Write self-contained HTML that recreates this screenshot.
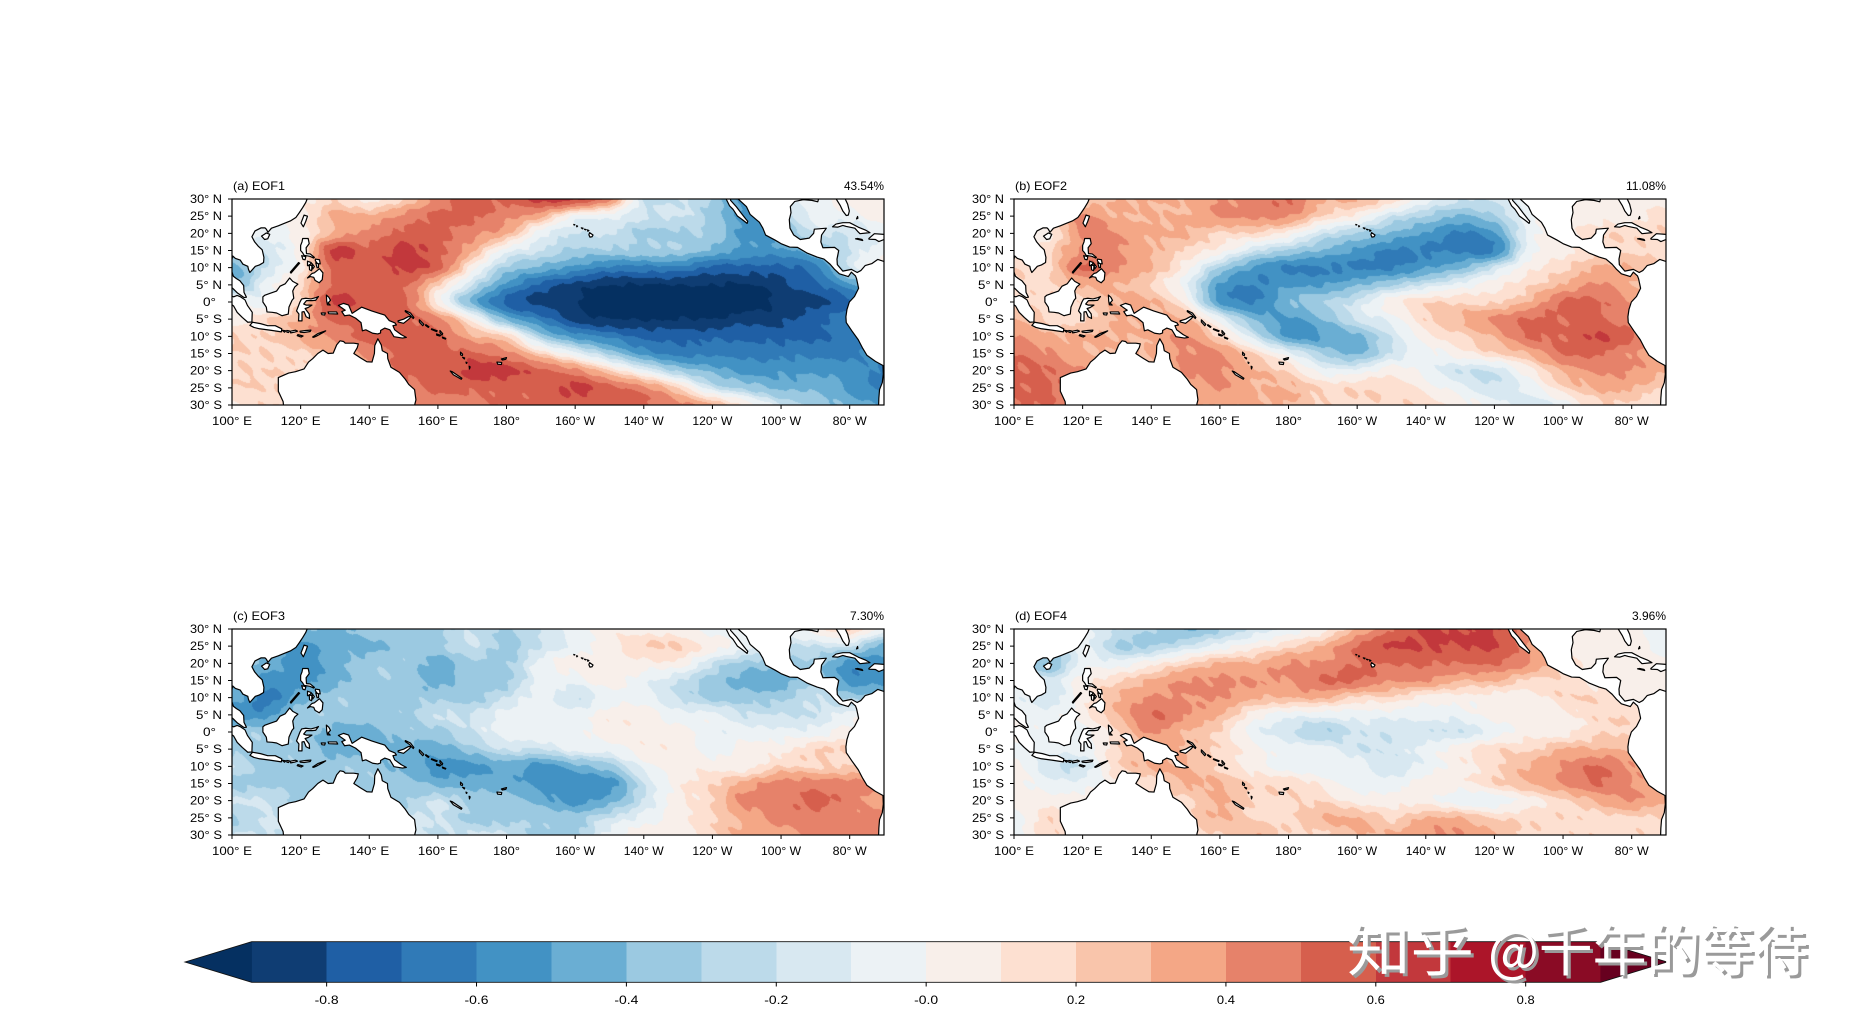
<!DOCTYPE html>
<html><head><meta charset="utf-8">
<style>
html,body{margin:0;padding:0;width:1852px;height:1023px;overflow:hidden;background:#fff}
canvas{position:absolute;display:block}
#ov{position:absolute;left:0;top:0}
text{font-family:"Liberation Sans","WenQuanYi Zen Hei",sans-serif;font-size:12px;fill:#000}
.wm{font-family:"Noto Sans CJK SC","WenQuanYi Zen Hei",sans-serif;font-size:56px}
</style></head><body>
<canvas id="ca" width="652" height="206" style="left:232px;top:199px"></canvas>
<canvas id="cb" width="652" height="206" style="left:1014px;top:199px"></canvas>
<canvas id="cc" width="652" height="206" style="left:232px;top:629px"></canvas>
<canvas id="cd" width="652" height="206" style="left:1014px;top:629px"></canvas>
<svg id="ov" width="1852" height="1023" xmlns="http://www.w3.org/2000/svg">
<defs>
<path id="land" fill="#fff" stroke="#000" stroke-width="1.2" stroke-linejoin="round" vector-effect="non-scaling-stroke" d="
M99,-31 L122,-31 L121.9,-30 L121.5,-29 L120.6,-27.5 L119.6,-26 L118.6,-24.6 L117,-23.6 L115,-22.8 L113.5,-22.2 L111.5,-21.5 L110.5,-20.3 L110,-21.2 L109.6,-21.6 L108.5,-21.6 L106.7,-20.7 L105.8,-19 L106.6,-17.5 L107.6,-16.3 L108.8,-15.2 L109.3,-13 L109.2,-11.5 L108,-10.8 L106.8,-10.4 L105.2,-8.6 L104.8,-9.5 L104.6,-10.4 L103.2,-11 L102.4,-12.2 L101,-12.7 L100.2,-13.4 L99.9,-12 L99.2,-10.5 L99.9,-9 L100.4,-7.5 L101.3,-6.8 L102.3,-6.2 L103.4,-4.8 L103.5,-2.8 L104.2,-1.4 L103.5,-1.3 L101.5,-2.7 L100.4,-3.8 L99,-5 Z
M99,-2 L100.5,-1.5 L101.5,-1.9 L102.5,-1.5 L103.8,-0.6 L104.5,1 L105.9,3 L105.8,5.8 L104.6,5.9 L103,4.5 L101.5,3 L100.5,1.2 L99,0 Z
M105.2,6.8 L106,5.9 L108.3,6.3 L110.4,6.9 L112.6,6.9 L114.5,7.8 L114.4,8.7 L111,8.2 L108,7.8 L106.4,7.4 Z
M114.6,8.2 L115.7,8.4 L115.3,8.8 Z M116,8.3 L116.7,8.4 L116.5,8.9 L116,8.8 Z M117,8.5 L118.5,8.2 L119.1,8.5 L118.2,8.8 L117.1,9 Z
M119.8,8.5 L121.5,8.3 L123,8.2 L122.8,8.6 L121,8.9 L119.9,8.8 Z M119.2,9.5 L120.7,9.9 L120.2,10.2 L119,9.8 Z
M123.5,10.2 L125,9.2 L127.3,8.4 L126.5,8.9 L124.5,10 L123.8,10.3 Z
M109,-1.5 L109.6,-2 L111,-2.5 L113,-3.2 L114,-4.6 L115.5,-5.3 L116.8,-7 L117.7,-6 L119.2,-5.2 L118.3,-4.4 L117.7,-3.2 L118,-1.1 L117.5,-0.5 L116.6,1.5 L116.4,3.5 L114.6,4 L113,3.2 L111.7,3 L110.2,2.9 L110,1.5 L109,0 Z
M119.4,5.5 L119.5,3.5 L118.8,2.6 L119.8,0 L120.3,-0.9 L121.5,-1.1 L123,-0.9 L124.5,-1.3 L125.2,-1.6 L124.4,-0.5 L123.3,-0.4 L121.7,-0.4 L120.9,0.6 L121.6,0.9 L123.3,0.9 L122.2,1.6 L121.3,1.9 L122.5,3.5 L122.6,4.8 L121.6,4.3 L121,2.8 L120.4,2.9 L120.4,5.5 Z
M127.5,-2 L128.2,-1.4 L128.7,-0.5 L128,0.3 L128.6,0.9 L127.8,0.8 L127.6,-0.3 Z
M128,2.9 L130.5,2.9 L130.8,3.5 L128.2,3.4 Z M126,3.2 L127.2,3.2 L127,3.8 L126.2,3.7 Z
M120.6,-18.5 L122.2,-18.5 L122.5,-17 L121.6,-15.8 L121.7,-14.1 L122.8,-14 L124,-13 L123.8,-12.8 L122.7,-13.3 L121,-13.6 L120.6,-14.3 L120,-15 L120,-16.5 L120.4,-17.5 Z
M120.3,-13.5 L121.5,-13.2 L121.3,-12.3 L120.7,-12.4 Z
M124.3,-12.5 L125.5,-12.3 L125.7,-11.1 L124.9,-11.2 L124.3,-12 Z
M124.4,-11.4 L125.2,-11.1 L125.2,-10 L124.8,-10 Z
M122,-11.9 L123.1,-11.5 L122.6,-10.6 L122,-10.6 Z
M122.5,-10.9 L123.3,-10.5 L123.2,-9.1 L122.6,-9.4 Z
M123.3,-11.2 L124,-10.3 L123.5,-9.6 Z
M122,-7 L123.3,-8.3 L124,-8.5 L125.5,-9.7 L126.5,-8.5 L126.3,-6.5 L125.4,-5.6 L124.2,-6.3 L123.8,-7.2 L122.8,-7.4 Z
M117.2,-8.4 L119.7,-11.3 L119.4,-11.5 L117,-8.7 Z
M120.1,-23 L121,-25.3 L122,-25 L121.5,-23.5 L120.8,-21.9 Z
M108.6,-19.2 L110,-20.1 L111,-19.7 L110.4,-18.4 L109.5,-18.2 Z
M131,1 L132.5,0.4 L134,0.9 L135,3.3 L137.8,1.5 L140.7,2.6 L144.5,3.8 L145.8,5.4 L147.5,6.1 L147.9,6.7 L146.9,6.9 L147.4,8.1 L149.3,9.5 L150.8,10.3 L149.7,10.5 L147.2,10.1 L146,8.1 L144.5,7.6 L143.3,8.3 L143.3,9 L142.5,9.3 L141,9.1 L139,8.1 L138,8.4 L137.6,6 L136,4.7 L134.2,3.8 L132.8,4 L132,2.8 L133,2.4 Z
M148.4,5.5 L150,5 L151.5,4.2 L152.2,4.3 L151.5,5 L150,6.2 L148.4,5.8 Z
M150.5,2.5 L152,3.2 L153,4.5 L152.8,4.8 L151.7,3.6 L150.5,2.8 Z
M154.6,5.2 L155.9,6.5 L155.6,6.9 L154.6,5.8 Z M156.5,6.6 L157.4,7.2 L157.2,7.4 L156.4,6.8 Z
M158.2,7.8 L159.8,8.4 L159.6,8.6 L158.1,8 Z M159.6,9.3 L160.8,9.7 L160.6,9.9 L159.7,9.7 Z
M160.6,8.3 L161.4,9.2 L161.2,9.6 L160.6,8.9 Z M161.3,10.2 L162.3,10.6 L162.2,10.8 L161.4,10.5 Z
M166.6,14.6 L167.2,15.2 L167.1,15.6 L166.6,15.4 Z M167.2,16.1 L167.8,16.3 L167.7,16.6 Z M168.2,17.5 L168.5,17.7 L168.3,17.9 Z M169.1,18.7 L169.4,18.9 L169.2,19.5 Z
M163.6,20.1 L164.2,20.3 L167,22.2 L166.8,22.5 L164.5,21.2 Z
M177.2,17.5 L178.6,17.6 L178.5,18.2 L177.4,18.1 Z M178.5,16.6 L180,16.2 L179.8,16.7 L178.8,16.9 Z
M113.5,22 L114,21.8 L116.5,20.7 L118.5,20.3 L121,19.5 L122.3,17.5 L123.5,16.5 L125,15 L126.5,14 L128,15 L129.5,14.9 L130.5,12.5 L131.5,11.3 L132.5,11.5 L133,12 L135.5,12 L136.8,12.2 L136.5,13.3 L135.5,15 L137.5,16.3 L139.3,17.4 L140.8,17.5 L141.5,15 L141.6,12.7 L142.5,10.7 L143.5,12.5 L143.8,14.2 L145.3,15 L145.4,16.5 L146.3,19 L148.8,20.5 L150.5,22.5 L151.5,24 L153.2,25.5 L153.6,28.5 L153.1,30.5 L152,33 L114,33 L115,30 L114.9,29 L113.5,26 Z
M204.2,-20.2 L205.2,-19.5 L204.9,-19 L204.3,-18.9 L204,-19.6 Z M203.6,-21 L204,-20.8 L203.7,-20.6 Z M202.7,-21.2 L203.2,-21.1 L203,-21 Z M201.8,-21.6 L202.3,-21.5 L202.1,-21.3 Z M200.4,-22.2 L200.7,-22.1 L200.5,-21.9 Z M199.6,-22.6 L199.9,-22.5 L199.7,-22.4 Z
M244,-31 L244,-30 L245,-28 L246,-27 L247.3,-25 L248.7,-24 L250.1,-22.9 L250.3,-23.5 L249.7,-24.2 L248.3,-26 L247,-27.7 L245.3,-29.6 L245.2,-31 Z
M247.5,-31 L247.5,-30 L249.9,-27.8 L251,-25.5 L253.7,-23.2 L254.7,-21.5 L255.5,-19.5 L258.3,-18 L260,-17 L262.5,-16 L264.8,-15.9 L267.5,-14.3 L270.5,-13.1 L272.5,-12.5 L274.3,-11 L275.5,-9.6 L277,-8.2 L279.6,-7.4 L280.5,-8.7 L281.7,-7.6 L282,-6.8 L282.6,-4 L281.4,-1.6 L279.9,0 L279.2,2.2 L278.9,4.3 L279,6 L280.7,8.5 L282.5,11 L283.8,13.5 L285,15.5 L287.5,17.3 L289.7,18.5 L289.8,21 L289.5,23.5 L288.7,25.5 L288.5,28 L288.4,31 L295,31 L295,-11.5 L290,-11.8 L288.2,-12.4 L286.5,-11.2 L284.5,-10.6 L283.3,-9.2 L282.2,-8.6 L280.5,-9.5 L278,-9 L276.4,-10.9 L276.3,-12.5 L276.8,-15 L275.6,-15.9 L272.2,-15.8 L271.6,-17.5 L271.8,-19.5 L273.2,-21.5 L269.7,-21.2 L269.5,-20 L268.2,-18.6 L265.6,-18.2 L263.7,-19.5 L262.6,-21.5 L262.4,-24 L262.9,-26 L262.7,-27.8 L264,-29.3 L266.5,-29.8 L269,-29.6 L270.7,-29.2 L271,-30.3 L276,-30.1 L276.2,-29.8 L277.3,-28 L278,-26.5 L279,-25.2 L279.6,-25.3 L279.9,-26.5 L279.4,-28.5 L278.7,-30 L278.7,-31 Z
M275,-21.9 L276,-22.7 L278,-23.1 L280,-23.1 L282.5,-21.8 L284.5,-21 L285.9,-20.2 L283,-19.9 L282.3,-20.6 L281.5,-21.5 L279,-22 L278,-22.3 L276.5,-21.8 Z
M285.6,-18.5 L287.2,-19.9 L290,-19.7 L291.6,-18.6 L290,-18.2 L288.5,-17.6 L287.5,-18.2 L285.6,-18.3 Z
M281.7,-18.4 L283.8,-17.9 L283.6,-18.2 L282.3,-18.5 Z
M282,-24.2 L282.4,-24.4 L282.3,-24.9 Z"/>
<g id="axes">
<rect x="232" y="199" width="652" height="206" fill="none" stroke="#000" stroke-width="1.2"/>
<path stroke="#000" stroke-width="1" fill="none" d="M228 199H232M228 216.17H232M228 233.33H232M228 250.5H232M228 267.67H232M228 284.83H232M228 302H232M228 319.17H232M228 336.33H232M228 353.5H232M228 370.67H232M228 387.83H232M228 405H232
M232 405V409M300.63 405V409M369.26 405V409M437.9 405V409M506.53 405V409M575.16 405V409M643.79 405V409M712.42 405V409M781.05 405V409M849.69 405V409"/>
<g text-anchor="end">
<text x="222" y="203" textLength="32" lengthAdjust="spacingAndGlyphs">30° N</text>
<text x="222" y="220.2" textLength="32" lengthAdjust="spacingAndGlyphs">25° N</text>
<text x="222" y="237.3" textLength="32" lengthAdjust="spacingAndGlyphs">20° N</text>
<text x="222" y="254.5" textLength="32" lengthAdjust="spacingAndGlyphs">15° N</text>
<text x="222" y="271.7" textLength="32" lengthAdjust="spacingAndGlyphs">10° N</text>
<text x="222" y="288.8" textLength="26" lengthAdjust="spacingAndGlyphs">5° N</text>
<text x="216" y="306" textLength="13" lengthAdjust="spacingAndGlyphs">0°</text>
<text x="222" y="323.2" textLength="26" lengthAdjust="spacingAndGlyphs">5° S</text>
<text x="222" y="340.3" textLength="32" lengthAdjust="spacingAndGlyphs">10° S</text>
<text x="222" y="357.5" textLength="32" lengthAdjust="spacingAndGlyphs">15° S</text>
<text x="222" y="374.7" textLength="32" lengthAdjust="spacingAndGlyphs">20° S</text>
<text x="222" y="391.8" textLength="32" lengthAdjust="spacingAndGlyphs">25° S</text>
<text x="222" y="409" textLength="32" lengthAdjust="spacingAndGlyphs">30° S</text>
</g>
<g text-anchor="middle">
<text x="232" y="425" textLength="40" lengthAdjust="spacingAndGlyphs">100° E</text>
<text x="300.63" y="425" textLength="40" lengthAdjust="spacingAndGlyphs">120° E</text>
<text x="369.26" y="425" textLength="40" lengthAdjust="spacingAndGlyphs">140° E</text>
<text x="437.9" y="425" textLength="40" lengthAdjust="spacingAndGlyphs">160° E</text>
<text x="506.53" y="425" textLength="27" lengthAdjust="spacingAndGlyphs">180°</text>
<text x="575.16" y="425" textLength="40" lengthAdjust="spacingAndGlyphs">160° W</text>
<text x="643.79" y="425" textLength="40" lengthAdjust="spacingAndGlyphs">140° W</text>
<text x="712.42" y="425" textLength="40" lengthAdjust="spacingAndGlyphs">120° W</text>
<text x="781.05" y="425" textLength="40" lengthAdjust="spacingAndGlyphs">100° W</text>
<text x="849.69" y="425" textLength="34" lengthAdjust="spacingAndGlyphs">80° W</text>
</g>
</g>
</defs>

<svg x="232" y="199" width="652" height="206" viewBox="100 -30 190 60" preserveAspectRatio="none"><use href="#land"/></svg>
<svg x="1014" y="199" width="652" height="206" viewBox="100 -30 190 60" preserveAspectRatio="none"><use href="#land"/></svg>
<svg x="232" y="629" width="652" height="206" viewBox="100 -30 190 60" preserveAspectRatio="none"><use href="#land"/></svg>
<svg x="1014" y="629" width="652" height="206" viewBox="100 -30 190 60" preserveAspectRatio="none"><use href="#land"/></svg>

<use href="#axes"/>
<use href="#axes" transform="translate(782,0)"/>
<use href="#axes" transform="translate(0,430)"/>
<use href="#axes" transform="translate(782,430)"/>

<text x="233" y="190" textLength="52" lengthAdjust="spacingAndGlyphs">(a) EOF1</text>
<text x="884" y="190" text-anchor="end" textLength="40" lengthAdjust="spacingAndGlyphs">43.54%</text>
<text x="1015" y="190" textLength="52" lengthAdjust="spacingAndGlyphs">(b) EOF2</text>
<text x="1666" y="190" text-anchor="end" textLength="40" lengthAdjust="spacingAndGlyphs">11.08%</text>
<text x="233" y="620" textLength="52" lengthAdjust="spacingAndGlyphs">(c) EOF3</text>
<text x="884" y="620" text-anchor="end" textLength="34" lengthAdjust="spacingAndGlyphs">7.30%</text>
<text x="1015" y="620" textLength="52" lengthAdjust="spacingAndGlyphs">(d) EOF4</text>
<text x="1666" y="620" text-anchor="end" textLength="34" lengthAdjust="spacingAndGlyphs">3.96%</text>

<!-- colorbar -->
<g shape-rendering="crispEdges">
<rect x="251.7" y="941.7" width="75.4" height="40.6" fill="#0f3d73"/>
<rect x="326.64" y="941.7" width="75.4" height="40.6" fill="#1f5fa5"/>
<rect x="401.58" y="941.7" width="75.4" height="40.6" fill="#307ab7"/>
<rect x="476.52" y="941.7" width="75.4" height="40.6" fill="#4292c4"/>
<rect x="551.46" y="941.7" width="75.4" height="40.6" fill="#6aaed3"/>
<rect x="626.4" y="941.7" width="75.4" height="40.6" fill="#9bc9e1"/>
<rect x="701.34" y="941.7" width="75.4" height="40.6" fill="#bcdaea"/>
<rect x="776.28" y="941.7" width="75.4" height="40.6" fill="#d8e8f1"/>
<rect x="851.22" y="941.7" width="75.4" height="40.6" fill="#ecf2f5"/>
<rect x="926.16" y="941.7" width="75.4" height="40.6" fill="#f8efea"/>
<rect x="1001.1" y="941.7" width="75.4" height="40.6" fill="#fde0d1"/>
<rect x="1076.04" y="941.7" width="75.4" height="40.6" fill="#f9c5ab"/>
<rect x="1150.98" y="941.7" width="75.4" height="40.6" fill="#f4a786"/>
<rect x="1225.92" y="941.7" width="75.4" height="40.6" fill="#e6826a"/>
<rect x="1300.86" y="941.7" width="75.4" height="40.6" fill="#d65f4d"/>
<rect x="1375.8" y="941.7" width="75.4" height="40.6" fill="#c2383c"/>
<rect x="1450.74" y="941.7" width="75.4" height="40.6" fill="#ac1529"/>
<rect x="1525.68" y="941.7" width="74.94" height="40.6" fill="#8a0b25"/>
</g>
<polygon points="185,962 251.9,941.7 251.9,982.3" fill="#053061"/>
<polygon points="1667,962 1600.4,941.7 1600.4,982.3" fill="#67001f"/>
<polygon points="185,962 251.7,941.7 1600.6,941.7 1667,962 1600.6,982.3 251.7,982.3" fill="none" stroke="#111" stroke-width="0.9"/>
<path stroke="#000" stroke-width="1" d="M326.64 982.3V986.5M476.52 982.3V986.5M626.4 982.3V986.5M776.28 982.3V986.5M926.16 982.3V986.5M1076.04 982.3V986.5M1225.92 982.3V986.5M1375.8 982.3V986.5M1525.68 982.3V986.5"/>
<g text-anchor="middle">
<text x="326.64" y="1004" textLength="24" lengthAdjust="spacingAndGlyphs">-0.8</text>
<text x="476.52" y="1004" textLength="24" lengthAdjust="spacingAndGlyphs">-0.6</text>
<text x="626.4" y="1004" textLength="24" lengthAdjust="spacingAndGlyphs">-0.4</text>
<text x="776.28" y="1004" textLength="24" lengthAdjust="spacingAndGlyphs">-0.2</text>
<text x="926.16" y="1004" textLength="24" lengthAdjust="spacingAndGlyphs">-0.0</text>
<text x="1076.04" y="1004" textLength="18" lengthAdjust="spacingAndGlyphs">0.2</text>
<text x="1225.92" y="1004" textLength="18" lengthAdjust="spacingAndGlyphs">0.4</text>
<text x="1375.8" y="1004" textLength="18" lengthAdjust="spacingAndGlyphs">0.6</text>
<text x="1525.68" y="1004" textLength="18" lengthAdjust="spacingAndGlyphs">0.8</text>
</g>

<!-- watermark -->
<g>
<text class="wm" x="1350" y="974" style="fill:#9a9a9a" textLength="127" lengthAdjust="spacingAndGlyphs">知乎</text>
<text class="wm" x="1491" y="974" style="fill:#9a9a9a" textLength="320" lengthAdjust="spacingAndGlyphs">@千年的等待</text>
<text class="wm" x="1347" y="971" style="fill:#ffffff" textLength="127" lengthAdjust="spacingAndGlyphs">知乎</text>
<text class="wm" x="1488" y="971" style="fill:#ffffff" textLength="320" lengthAdjust="spacingAndGlyphs">@千年的等待</text>
</g>
</svg>

<script>
(function(){
var COL=["#053061","#0f3d73","#1f5fa5","#307ab7","#4292c4","#6aaed3","#9bc9e1","#bcdaea","#d8e8f1","#ecf2f5","#f8efea","#fde0d1","#f9c5ab","#f4a786","#e6826a","#d65f4d","#c2383c","#ac1529","#8a0b25","#67001f"];
var RGB=COL.map(function(h){return [parseInt(h.substr(1,2),16),parseInt(h.substr(3,2),16),parseInt(h.substr(5,2),16)];});
var D={
ca:[
[0,0,0,1,0,1,3,4,4,5,5,3,-2,-2,-3,-5,-2,-1,0,0],
[0,-1,0,2,2,3,4,4,3,2,-0.6,-1,-2,-2,-3,-5,-3,-1,-1,0],
[0,-1,0,2,3,4,4,3,2,-1,-2,-2,-3,-3,-3,-5,-4,-2,-2,-1],
[-3,-2,0,5,4,5,4,2,-1,-2,-3,-3,-3,-3,-4,-5,-5,-4,-2,-1],
[-4,-2,0,4,4,5,4,0,-3,-4,-5,-6,-6,-6,-7,-7,-7,-6,-2,0],
[-4,-1,1,4,4,4,1,-2,-5,-7,-8,-8.7,-8.7,-8.7,-8.7,-8.7,-8,-7,-5,-3],
[0,-1,1,5,4,4,0,-4,-7,-8,-8.5,-10,-10,-10,-10,-9.5,-8.5,-8,-7,-5],
[0,1,2,4,4,4,3,0,-4,-6,-8,-8.7,-8.7,-8.7,-8.7,-8,-8,-7,-6,-5],
[1,1,2,3,4,4,4,2,1,-3,-5,-6,-7,-7,-7,-7,-7,-7,-6,-5],
[1,1,1,2,3,4,4,4,3,1,-1,-3,-5,-6,-6,-6,-6,-6,-6,-5],
[1,1,1,1,2,4,4,5,5,4,3,1,-1,-3,-4,-5,-5,-5,-5,-6],
[1,1,1,1,2,3,4,4,4,4,5,4,3,1,-2,-3,-4,-4,-5,-6],
[0,1,1,1,2,3,3,3,4,4,4,4,4,3,2,0,-2,-3,-4,-5]],
cb:[
[0,0,1,2,2,2,3,3,4,2,2,1,-1,-2,-2,-1,0,0,0,0],
[0,1,3,2,2,2,3,3,3,1,0,-2,-3,-4,-3,-1,0,0,0,1],
[0,0,3,3,2,2,1,1,0,-2,-3,-4,-5,-6,-5,-1,0,1,1,1],
[0,1,3,3,2,1,0,-2,-3,-4,-5,-6,-6,-6,-6,-1,0,1,1,1],
[1,1,4,3,2,0,-3,-5,-6,-6,-6,-6,-5,-4,-2,0,1,2,2,1],
[1,1,2,2,1,-1,-5,-6,-5,-5,-4,-3,-2,-1,0,1,2,3,2,1],
[1,1,1,2,2,0,-5,-6,-4,-3,-2,0,1,1,1,2,4,4,3,2],
[2,1,1,2,2,2,-1,-4,-5,-4,-2,-1,1,2,3,4,4,4,3,2],
[3,2,2,2,2,3,1,-2,-5,-5,-4,-2,0,1,2,4,4,5,4,2],
[4,3,2,2,2,3,3,1,-1,-3,-4,-2,-1,0,1,2,4,4,3,2],
[4,4,3,2,2,3,3,2,1,-1,-1,0,-1,-2,-2,0,2,3,3,2],
[4,4,3,2,2,2,3,2,2,1,1,1,0,-1,-2,-1,1,2,2,1],
[4,4,3,2,2,2,2,2,2,1,1,1,1,0,-1,-2,-1,1,1,0]],
cc:[
[0,0,-3,-4,-3,-3,-3,-2,-3,-2,-1,0,0,0,-1,-1,-1,0,1,-1],
[0,-3,-5,-4,-4,-3,-3,-2,-3,-2,-1,0,1,1,0,-1,-2,-2,-2,-4],
[-3,-4,-5,-4,-3,-3,-4,-3,-3,-1,0,0,0,0,-2,-3,-3,-3,-5,-5],
[-4,-5,-5,-4,-3,-3,-4,-3,-3,-1,-1,0,-1,-2,-3,-4,-4,-3,-5,-5],
[-4,-6,-4,-3,-3,-3,-3,-3,-2,-1,-2,-1,-1,-2,-3,-3,-3,-2,-3,-3],
[-5,-5,-3,-3,-3,-3,-2,-2,-1,-1,-1,0,0,-1,-1,-2,-2,-2,-1,-1],
[-3,-3,-3,-4,-4,-3,-3,-2,-1,-1,-1,0,0,0,-1,-1,-1,-1,0,0],
[-3,-3,-3,-4,-4,-4,-4,-3,-2,-2,-1,-1,0,0,-1,0,0,1,1,1],
[-2,-3,-3,-3,-3,-4,-5,-5,-4,-5,-4,-3,-1,0,0,0,1,1,1,1],
[-3,-3,-3,-3,-3,-3,-4,-4,-4,-5,-5,-5,-2,0,1,2,3,3,3,3],
[-2,-2,-3,-3,-3,-3,-2,-3,-3,-4,-5,-4,-2,0,1,3,3,4,3,2],
[-3,-2,-2,-2,-2,-2,-2,-3,-3,-3,-3,-2,-1,0,1,2,3,3,3,3],
[-2,-2,-2,-2,-2,-2,-2,-2,-2,-3,-3,-1,0,0,1,2,2,3,3,3]],
cd:[
[0,0,-1,-2,-3,-4,-3,-2,-1,0,2,4,5,5,5,3,0,0,0,-1],
[0,-3,-1,-3,-3,-2,-1,0,1,2,4,5,5,5,5,3,0,0,0,-1],
[-2,-4,-1,-1,0,1,2,2,3,3,4,4,4,4,4,3,1,0,0,0],
[-1,-2,0,1,2,3,3,3,3,4,4,3,3,2,2,1,1,0,0,0],
[-1,-2,0,2,3,3,3,2,2,2,1,1,0,0,0,0,1,1,0,0],
[-1,-1,0,2,4,3,2,0,-1,-1,-1,-1,-1,-1,0,0,0,1,1,0],
[0,-1,-1,1,3,2,1,-1,-2,-3,-2,-2,-2,-2,-1,0,0,1,1,0],
[-1,-1,-1,1,2,2,1,0,-1,-1,-2,-2,-1,0,1,1,2,2,2,1],
[0,-2,-2,1,2,2,1,0,-1,-1,-1,-2,-1,0,1,2,3,4,3,2],
[0,-1,-1,0,1,2,2,1,1,0,-1,-1,0,0,1,2,3,4,3,2],
[0,0,0,0,1,1,2,1,1,1,0,0,0,-1,-1,0,1,2,3,2],
[-1,1,0,0,1,1,2,1,1,2,2,1,2,2,1,1,1,1,1,1],
[-1,1,0,0,1,1,1,2,1,1,2,2,3,3,2,1,1,1,1,1]]
};
var K={ca:0.8,cb:0.6,cc:0.9,cd:0.55};
function cl(v,a,b){return v<a?a:(v>b?b:v);}
function cub(p0,p1,p2,p3,t){return p1+0.5*t*(p2-p0+t*(2*p0-5*p1+4*p2-p3+t*(3*(p1-p2)+p3-p0)));}
function samp(G,gx,gy){
  var ix=Math.floor(gx),iy=Math.floor(gy),tx=gx-ix,ty=gy-iy,rv=[];
  for(var j=-1;j<=2;j++){
    var r=G[cl(iy+j,0,12)];
    rv.push(cub(r[cl(ix-1,0,19)],r[cl(ix,0,19)],r[cl(ix+1,0,19)],r[cl(ix+2,0,19)],tx));
  }
  return cub(rv[0],rv[1],rv[2],rv[3],ty);
}
var seeds={ca:0.3,cb:1.7,cc:2.9,cd:4.1};
for(var id in D){
  var cv=document.getElementById(id);
  if(!cv||!cv.getContext)continue;
  var W=cv.width,H=cv.height,ctx=cv.getContext('2d'),img=ctx.createImageData(W,H),G=D[id],s=seeds[id],k=K[id];
  for(var y=0;y<H;y++){
    var lat=30-(y+0.5)/H*60, gy=(30-lat)/5;
    for(var x=0;x<W;x++){
      var lon=100+(x+0.5)/W*190, gx=(lon-100)/10;
      var n=0.22*Math.sin(lon*0.55+lat*0.8+s)*Math.sin(lat*0.45-lon*0.3+2*s)+0.1*Math.sin(lon*1.3+lat*1.1+3*s);
      var v=samp(G,gx,gy)+0.5+n;
      var a=Math.abs(v), sm=cl((a-0.5)/2,0,1);
      v+= (v<0?-1:1)*k*sm;
      var idx=cl(Math.floor(v)+10,0,19);
      var c=RGB[idx],o=(y*W+x)*4;
      img.data[o]=c[0];img.data[o+1]=c[1];img.data[o+2]=c[2];img.data[o+3]=255;
    }
  }
  ctx.putImageData(img,0,0);
}
})();
</script>
</body></html>
